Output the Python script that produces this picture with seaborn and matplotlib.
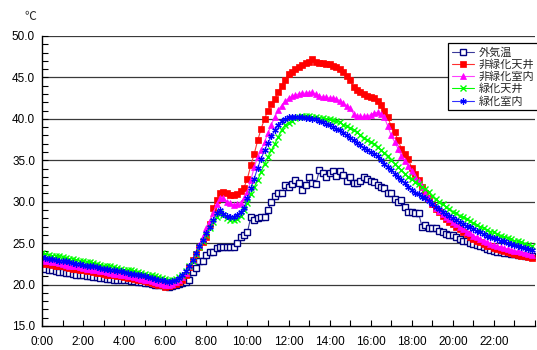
import numpy as np
import pandas as pd
import matplotlib
matplotlib.use("Agg")
import matplotlib.pyplot as plt
import seaborn as sns
from matplotlib.ticker import MultipleLocator, FixedLocator, FormatStrFormatter

# 10-minute readings, 0:00 .. 23:50
outdoor = [
    22.0, 21.9, 21.8, 21.7, 21.6, 21.5,
    21.5, 21.4, 21.4, 21.3, 21.2, 21.2,
    21.1, 21.0, 21.0, 20.9, 20.9, 20.8,
    20.8, 20.7, 20.7, 20.6, 20.6, 20.5,
    20.5, 20.5, 20.4, 20.4, 20.3, 20.3,
    20.2, 20.2, 20.1, 20.0, 20.0, 19.9,
    19.8, 19.7, 19.8, 20.0, 20.1, 20.2,
    20.3, 20.5, 21.5, 22.0, 22.8, 22.8,
    23.6, 23.9, 23.9, 24.4, 24.5, 24.5,
    24.5, 24.5, 24.5, 25.0, 25.7, 26.0,
    26.3, 28.2, 27.8, 28.0, 28.2, 28.2,
    29.0, 30.0, 30.7, 31.0, 31.0, 32.0,
    31.8, 32.1, 32.6, 32.3, 31.4, 32.0,
    33.0, 32.3, 32.1, 33.8, 33.5, 33.0,
    33.5, 33.7, 33.1, 33.7, 33.2, 32.5,
    33.0, 32.3, 32.3, 32.5, 33.0, 32.7,
    32.5, 32.4, 32.0, 31.8, 31.6, 31.0,
    31.0, 30.3, 30.0, 30.2, 29.4, 28.8,
    28.8, 28.6, 28.6, 27.0, 27.2, 26.8,
    26.8, 26.8, 26.5, 26.3, 26.1, 26.0,
    26.0, 25.7, 25.5, 25.3, 25.2, 25.0,
    24.9, 24.8, 24.6, 24.5, 24.3, 24.2,
    24.0, 23.9, 23.9, 23.8, 23.8, 23.7,
    23.7, 23.6, 23.6, 23.5, 23.5, 23.4,
]
roof_bare = [
    22.6, 22.5, 22.5, 22.4, 22.3, 22.2,
    22.2, 22.1, 22.0, 21.9, 21.9, 21.8,
    21.7, 21.6, 21.6, 21.5, 21.4, 21.4,
    21.3, 21.2, 21.2, 21.1, 21.0, 21.0,
    20.9, 20.8, 20.8, 20.7, 20.6, 20.5,
    20.4, 20.3, 20.2, 20.1, 20.0, 19.9,
    19.7, 19.8, 19.9, 20.1, 20.3, 20.6,
    21.2, 22.1, 23.0, 23.7, 24.5, 25.1,
    25.8, 27.3, 29.2, 30.2, 31.1, 31.2,
    31.0, 30.8, 30.8, 30.9, 31.3, 31.7,
    32.8, 34.4, 35.8, 37.4, 38.8, 40.0,
    41.0, 41.8, 42.4, 43.2, 44.0, 44.7,
    45.4, 45.7, 46.0, 46.3, 46.5, 46.8,
    46.9, 47.2, 46.9, 46.7, 46.7, 46.6,
    46.6, 46.4, 46.3, 46.0, 45.6, 45.2,
    44.7, 43.8, 43.5, 43.2, 43.0, 42.8,
    42.6, 42.5, 42.2, 41.7, 41.0, 40.2,
    39.1, 38.4, 37.4, 36.4, 35.7, 35.1,
    34.1, 33.3, 32.6, 31.8, 31.1, 30.5,
    29.7, 29.1, 28.7, 28.3, 27.9, 27.6,
    27.3, 27.0, 26.7, 26.4, 26.1, 25.8,
    25.5, 25.3, 25.1, 24.9, 24.7, 24.6,
    24.4, 24.3, 24.2, 24.0, 23.9, 23.8,
    23.7, 23.6, 23.5, 23.4, 23.3, 23.2,
]
room_bare = [
    23.0, 22.9, 22.8, 22.7, 22.7, 22.6,
    22.5, 22.4, 22.3, 22.3, 22.2, 22.1,
    22.0, 21.9, 21.9, 21.8, 21.7, 21.6,
    21.6, 21.5, 21.4, 21.3, 21.3, 21.2,
    21.1, 21.0, 21.0, 20.9, 20.8, 20.7,
    20.6, 20.5, 20.4, 20.3, 20.2, 20.1,
    20.0, 20.0, 20.1, 20.3, 20.5, 20.9,
    21.4, 22.2, 23.0, 23.8, 24.8, 25.8,
    26.8, 27.7, 28.6, 29.7, 30.4, 30.4,
    30.0, 29.8, 29.6, 29.7, 29.9, 30.4,
    31.2, 32.6, 34.2, 35.4, 36.2, 37.2,
    38.3, 39.3, 40.2, 41.1, 41.6, 42.1,
    42.5, 42.7, 42.9, 43.0, 43.1, 43.1,
    43.1, 43.2, 43.0, 42.8, 42.6, 42.6,
    42.5, 42.5, 42.4, 42.2, 41.9, 41.6,
    41.3, 40.6, 40.3, 40.3, 40.3, 40.3,
    40.5, 40.7, 40.8, 40.6, 40.2, 39.1,
    38.0, 37.2, 36.4, 35.5, 34.9, 34.3,
    33.7, 33.0, 32.5, 31.8, 31.1, 30.5,
    29.8, 29.3, 28.9, 28.5, 28.2, 27.9,
    27.6, 27.3, 27.0, 26.7, 26.4, 26.2,
    25.9, 25.7, 25.5, 25.3, 25.1, 24.9,
    24.8, 24.6, 24.5, 24.4, 24.3, 24.2,
    24.1, 24.0, 23.9, 23.8, 23.7, 23.6,
]
roof_green = [
    23.8, 23.7, 23.6, 23.5, 23.5, 23.4,
    23.3, 23.2, 23.1, 23.1, 23.0, 22.9,
    22.8, 22.7, 22.7, 22.6, 22.5, 22.4,
    22.3, 22.3, 22.2, 22.1, 22.0, 21.9,
    21.8, 21.7, 21.7, 21.6, 21.5, 21.4,
    21.3, 21.2, 21.1, 21.0, 20.9, 20.8,
    20.7, 20.6, 20.6, 20.7, 20.9, 21.2,
    21.6, 22.2, 22.9, 23.7, 24.5, 25.3,
    26.0, 26.8, 27.6, 28.2, 28.6, 28.4,
    28.0, 27.8, 27.8, 27.9, 28.3, 29.0,
    29.8, 30.9, 31.8, 32.6, 33.6, 34.6,
    35.4, 36.2, 37.0, 37.8, 38.7, 39.2,
    39.5, 39.8, 40.1, 40.2, 40.3, 40.3,
    40.3, 40.2, 40.2, 40.1, 40.1, 40.0,
    40.0, 39.9, 39.8, 39.6, 39.3, 39.1,
    38.9, 38.7, 38.4, 38.0, 37.7, 37.5,
    37.2, 37.0, 36.6, 36.2, 35.9, 35.5,
    35.0, 34.6, 34.2, 33.8, 33.4, 33.0,
    32.7, 32.4, 32.1, 31.8, 31.5, 31.2,
    30.7, 30.3, 30.0, 29.7, 29.4, 29.1,
    28.8, 28.6, 28.3, 28.1, 27.9, 27.7,
    27.4, 27.2, 27.0, 26.8, 26.6, 26.4,
    26.3, 26.1, 25.9, 25.8, 25.6, 25.5,
    25.3, 25.2, 25.1, 24.9, 24.8, 24.7,
]
room_green = [
    23.3, 23.2, 23.1, 23.1, 23.0, 22.9,
    22.8, 22.8, 22.7, 22.6, 22.5, 22.5,
    22.4, 22.3, 22.2, 22.2, 22.1, 22.0,
    21.9, 21.9, 21.8, 21.7, 21.6, 21.6,
    21.5, 21.4, 21.3, 21.3, 21.2, 21.1,
    21.0, 20.9, 20.8, 20.7, 20.6, 20.5,
    20.4, 20.3, 20.4, 20.5, 20.8, 21.1,
    21.6, 22.3, 23.0, 23.8, 24.6, 25.4,
    26.2, 27.0, 27.8, 28.6, 29.0, 28.5,
    28.3, 28.2, 28.2, 28.4, 28.8, 29.3,
    30.4, 31.6, 32.8, 34.1, 35.2, 36.2,
    37.1, 37.9, 38.6, 39.3, 39.7, 40.0,
    40.2, 40.2, 40.2, 40.2, 40.2, 40.1,
    40.1, 40.0, 40.0, 39.8, 39.6, 39.4,
    39.2, 39.0, 38.8, 38.6, 38.3, 38.0,
    37.7, 37.4, 37.1, 36.8, 36.5, 36.3,
    36.0, 35.8, 35.5, 35.0, 34.6, 34.2,
    33.8, 33.4, 33.0, 32.6, 32.2, 31.8,
    31.4, 31.1, 30.9, 30.6, 30.4, 30.1,
    29.7, 29.4, 29.1, 28.8, 28.5, 28.3,
    28.0, 27.8, 27.5, 27.3, 27.1, 26.9,
    26.7, 26.5, 26.3, 26.1, 25.9, 25.8,
    25.6, 25.5, 25.3, 25.2, 25.0, 24.9,
    24.8, 24.7, 24.5, 24.4, 24.3, 24.2,
]

series_names = ["外気温", "非緑化天井", "非緑化室内", "緑化天井", "緑化室内"]
x_tick_labels = ["0:00", "2:00", "4:00", "6:00", "8:00", "10:00",
                 "12:00", "14:00", "16:00", "18:00", "20:00", "22:00"]

hours = np.arange(len(outdoor)) / 6.0
data = [outdoor, roof_bare, room_bare, roof_green, room_green]

sns.set_theme(style="white")
plt.rcParams["font.family"] = ["Liberation Sans", "Noto Sans CJK JP", "DejaVu Sans"]

fig = plt.figure(figsize=(5.37, 3.5), dpi=100)
ax = fig.add_axes([42 / 537, 1 - 326 / 350, (535 - 42) / 537, (326 - 36) / 350])

styles = [
    dict(color="#3a3a9a", marker="s", markersize=3.8, markerfacecolor="white",
         markeredgecolor="#000080", markeredgewidth=1.0, linewidth=0.8),
    dict(color="#FF3030", marker="s", markersize=3.8, markerfacecolor="#FF0000",
         markeredgecolor="#FF0000", markeredgewidth=0.5, linewidth=0.8),
    dict(color="#FF40FF", marker="^", markersize=4.2, markerfacecolor="#FF00FF",
         markeredgecolor="#FF00FF", markeredgewidth=0.5, linewidth=0.8),
    dict(color="#00FF00", marker="x", markersize=4.0, markeredgecolor="#00FF00",
         markeredgewidth=1.0, linewidth=0.8),
    dict(color="#3030FF", marker=(6, 2, 0), markersize=4.6, markeredgecolor="#0000FF",
         markeredgewidth=0.9, linewidth=0.8),
]

for name, vals, st in zip(series_names, data, styles):
    df = pd.DataFrame({"h": hours, "v": vals})
    sns.lineplot(data=df, x="h", y="v", ax=ax, label=name, **st)

ax.set_xlim(0, 24)
ax.set_ylim(15, 50)
ax.yaxis.set_major_locator(MultipleLocator(5))
ax.yaxis.set_minor_locator(MultipleLocator(1))
ax.yaxis.set_major_formatter(FormatStrFormatter("%.1f"))
ax.xaxis.set_major_locator(FixedLocator(np.arange(0, 24, 2)))
ax.set_xticklabels(x_tick_labels)
ax.xaxis.set_minor_locator(MultipleLocator(1))

ax.tick_params(axis="both", which="both", direction="in", color="black",
               labelsize=8.5, labelcolor="black")
ax.tick_params(axis="both", which="major", length=4, width=0.8)
ax.tick_params(axis="both", which="minor", length=4, width=0.8)
ax.tick_params(axis="y", which="both", left=True, right=False, pad=5)
ax.tick_params(axis="x", which="both", bottom=True, top=False, pad=7)

ax.grid(False)
for v in np.arange(20, 50.1, 5):
    ax.axhline(v, color="#3a3a3a", linewidth=0.9, zorder=0.5)

for side in ["top", "right"]:
    ax.spines[side].set_visible(False)
for side in ["left", "bottom"]:
    ax.spines[side].set_visible(True)
    ax.spines[side].set_color("black")
    ax.spines[side].set_linewidth(1.0)

ax.set_xlabel("")
ax.set_ylabel("")
fig.text(30 / 537, 1 - 17 / 350, "℃", fontsize=8.5, ha="center", va="center",
         family=["Noto Sans CJK JP", "DejaVu Sans"])

leg = ax.legend(loc="upper left", bbox_to_anchor=(448 / 537, 1 - 43 / 350),
                bbox_transform=fig.transFigure, borderaxespad=0, fontsize=8,
                frameon=True, fancybox=False, shadow=False, handlelength=2.0,
                handletextpad=0.4, labelspacing=0.15, borderpad=0.35)
leg.get_frame().set_edgecolor("black")
leg.get_frame().set_linewidth(0.9)
leg.get_frame().set_facecolor("white")
leg.get_frame().set_alpha(1)
for t in leg.get_texts():
    t.set_family(["Noto Sans CJK JP", "DejaVu Sans"])

fig.savefig("out.png", dpi=100)
